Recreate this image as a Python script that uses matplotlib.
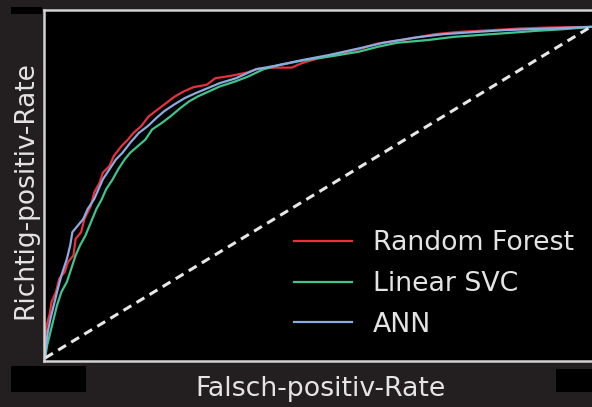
# ROC-Kurven: Random Forest, Linear SVC, ANN

import numpy as np
import matplotlib
matplotlib.use('Agg')
import matplotlib.pyplot as plt
from matplotlib.patches import Rectangle

# Random Forest
rf_fpr = [0.0, 0.0, 0.003, 0.008, 0.012, 0.020, 0.026, 0.036, 0.042, 0.052, 0.056, 0.066,
          0.072, 0.084, 0.090, 0.100, 0.106, 0.118, 0.126, 0.140, 0.152, 0.162, 0.176,
          0.190, 0.206, 0.222, 0.238, 0.254, 0.272, 0.296, 0.312, 0.340, 0.370, 0.392,
          0.420, 0.452, 0.470, 0.500, 0.540, 0.580, 0.610, 0.660, 0.714, 0.760, 0.817,
          0.870, 0.921, 1.0]
rf_tpr = [0.0, 0.06, 0.10, 0.13, 0.17, 0.20, 0.24, 0.26, 0.29, 0.31, 0.36, 0.38,
          0.42, 0.46, 0.50, 0.53, 0.56, 0.58, 0.61, 0.64, 0.66, 0.68, 0.70,
          0.73, 0.75, 0.77, 0.79, 0.805, 0.818, 0.825, 0.845, 0.852, 0.862, 0.874,
          0.877, 0.877, 0.89, 0.905, 0.92, 0.935, 0.95, 0.962, 0.978, 0.985, 0.99,
          0.995, 0.998, 1.0]

# Linear SVC
svc_fpr = [0.0, 0.004, 0.010, 0.016, 0.022, 0.030, 0.040, 0.048, 0.056, 0.064, 0.074,
           0.084, 0.094, 0.104, 0.112, 0.124, 0.134, 0.146, 0.156, 0.170, 0.184, 0.196,
           0.214, 0.230, 0.248, 0.264, 0.280, 0.300, 0.320, 0.348, 0.372, 0.400, 0.430,
           0.470, 0.520, 0.575, 0.610, 0.645, 0.700, 0.750, 0.800, 0.852, 0.900, 0.950, 1.0]
svc_tpr = [0.0, 0.04, 0.08, 0.12, 0.16, 0.20, 0.23, 0.27, 0.31, 0.34, 0.37,
           0.41, 0.45, 0.48, 0.51, 0.54, 0.57, 0.60, 0.62, 0.64, 0.66, 0.69,
           0.71, 0.73, 0.755, 0.775, 0.79, 0.805, 0.82, 0.835, 0.85, 0.872, 0.885,
           0.898, 0.910, 0.925, 0.94, 0.952, 0.960, 0.970, 0.976, 0.982, 0.988, 0.993, 1.0]

# ANN
ann_fpr = [0.0, 0.002, 0.005, 0.010, 0.016, 0.022, 0.030, 0.040, 0.046, 0.050, 0.060,
           0.070, 0.078, 0.090, 0.098, 0.106, 0.118, 0.130, 0.142, 0.156, 0.172, 0.188,
           0.204, 0.218, 0.236, 0.256, 0.276, 0.298, 0.320, 0.350, 0.386, 0.420, 0.472,
           0.520, 0.575, 0.620, 0.679, 0.730, 0.783, 0.840, 0.887, 0.940, 1.0]
ann_tpr = [0.0, 0.04, 0.08, 0.12, 0.16, 0.20, 0.25, 0.30, 0.34, 0.38, 0.40,
           0.42, 0.45, 0.48, 0.51, 0.54, 0.57, 0.60, 0.62, 0.65, 0.68, 0.70,
           0.725, 0.745, 0.765, 0.785, 0.80, 0.815, 0.83, 0.845, 0.872, 0.882, 0.900,
           0.915, 0.935, 0.952, 0.968, 0.978, 0.984, 0.990, 0.993, 0.996, 1.0]

labels = ['Random Forest', 'Linear SVC', 'ANN']
colors = ['#e5323c', '#3ec48c', '#8eaae2']

bg = '#231f20'
txt = '#e4e4e4'
W, H = 592, 407

fig = plt.figure(figsize=(W / 100, H / 100), dpi=100, facecolor=bg)

# black boxes from the original layout (covered tick labels)
def box(x0, y0, x1, y1, c='black'):
    fig.add_artist(Rectangle((x0 / W, 1 - y1 / H), (x1 - x0) / W, (y1 - y0) / H,
                             transform=fig.transFigure, facecolor=c, edgecolor='none', zorder=0))

box(11, 7, 42, 14)
box(11, 366, 86, 392)
box(556, 369, 592, 392)

ax = fig.add_axes([44 / W, 46 / H, 574 / W, 351 / H])
ax.set_facecolor('black')

ax.plot(rf_fpr, rf_tpr, color=colors[0], lw=1.6, label=labels[0])
ax.plot(svc_fpr, svc_tpr, color=colors[1], lw=1.6, label=labels[1])
ax.plot(ann_fpr, ann_tpr, color=colors[2], lw=1.6, label=labels[2])
ax.plot([0, 1], [0, 1], color='#e6e6e6', lw=2.2, linestyle=(0, (3, 2)))

ax.set_xlim(-0.002, 1.05)
ax.set_ylim(-0.009, 1.051)
ax.set_xticks([])
ax.set_yticks([])
for s in ax.spines.values():
    s.set_color('#d2d2d2')
    s.set_linewidth(1.8)

leg = fig.legend(loc='center left', bbox_to_anchor=(294 / W, 1 - 284 / H),
                 frameon=False, fontsize=19.3, handlelength=2.15, handletextpad=0.8,
                 labelspacing=0.55, borderpad=0, borderaxespad=0)
for t in leg.get_texts():
    t.set_color(txt)

fig.text(320 / W, 1 - 389 / H, 'Falsch-positiv-Rate', color=txt, fontsize=19.3,
         ha='center', va='center')
fig.text(25 / W, 1 - 190 / H, 'Richtig-positiv-Rate', color=txt, fontsize=19,
         ha='center', va='center', rotation=90)

fig.savefig('out.png', dpi=100, facecolor=bg)
